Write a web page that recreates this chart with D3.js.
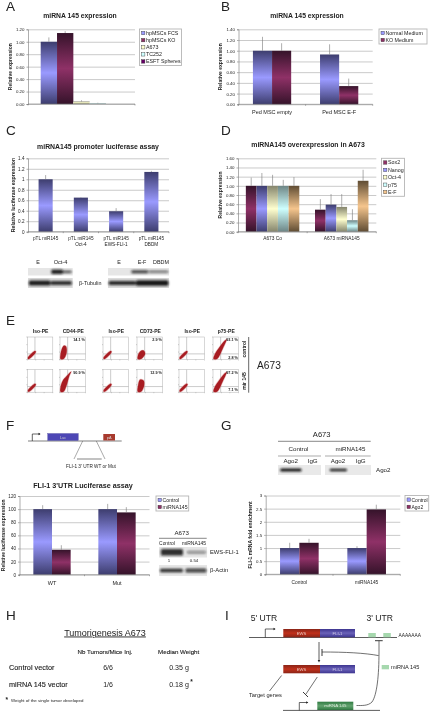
<!DOCTYPE html>
<html><head><meta charset="utf-8">
<script src="https://cdn.jsdelivr.net/npm/d3@7"></script>
<style>
html,body{margin:0;padding:0;background:#fff}
svg{display:block;filter:blur(0.4px)}
text{font-family:"Liberation Sans",Arial,sans-serif;fill:#222}
</style></head><body>
<svg id="c" width="430" height="712" viewBox="0 0 430 712"></svg>
<script>
// ---------- DATA ----------
const aCats=[""];
const aSeries=["hpMSCs FCS","hpMSCs KO","A673","TC252","ESFT Spheres"];
const aValues=[[1.0],[1.14],[0.04],[0.01],[0.0]];
const aErrors=[[1.07],[1.17],[0.06],[0.02],[0.0]];
const aTicks=[0,0.2,0.4,0.6,0.8,1.0,1.2];

const bCats=["Ped MSC empty","Ped MSC E-F"];
const bSeries=["Normal Medium","KO Medium"];
const bValues=[[1.0,0.93],[1.0,0.34]];
const bErrors=[[1.26,1.12],[1.14,0.48]];
const bTicks=[0,0.2,0.4,0.6,0.8,1.0,1.2,1.4];

const cCats=[["pTL miR145"],["pTL miR145","Oct-4"],["pTL miR145","EWS-FLI-1"],["pTL miR145","DBDM"]];
const cSeries=["miR145"];
const cValues=[[1.0,0.65,0.39,1.14]];
const cErrors=[[1.08,0.66,0.45,1.16]];
const cTicks=[0,0.2,0.4,0.6,0.8,1,1.2,1.4];

const dCats=["A673 Co","A673 miRNA145"];
const dSeries=["Sox2","Nanog","Oct-4","p75","E-F"];
const dValues=[[1,0.48],[1,0.59],[1,0.54],[1,0.25],[1,1.11]];
const dErrors=[[1.18,0.71],[1.28,0.82],[1.24,0.82],[1.13,0.49],[1.19,1.35]];
const dTicks=[0,0.2,0.4,0.6,0.8,1,1.2,1.4,1.6];

const fCats=["WT","Mut"];
const fSeries=["Control","miRNA145"];
const fValues=[[100,100],[38,95]];
const fErrors=[[106,108],[45,103]];
const fTicks=[0,20,40,60,80,100,120];

const gCats=["Control","miRNA145"];
const gSeries=["Control","Ago2"];
const gValues=[[1,1],[1.2,2.47]];
const gErrors=[[1.2,1.07],[1.35,2.65]];
const gTicks=[0,0.5,1,1.5,2,2.5,3];

const flowHeaders=["Iso-PE","CD44-PE","Iso-PE","CD73-PE","Iso-PE","p75-PE"];
const flowRow1Pct=["","14.1 %","","2.9 %","","93.1 %"];
const flowRow2Pct=["","90.9 %","","12.9 %","","97.2 %"];
const blobIso=[[.03,.02],[.1,.04],[.34,.34],[.3,.38],[.1,.2],[.02,.08]];
const blobCd44a=[[.02,.02],[.14,.02],[.26,.3],[.24,.58],[.16,.62],[.08,.5],[.02,.22]];
const blobCd44b=[[.02,.02],[.14,.02],[.26,.3],[.36,.7],[.44,.92],[.26,.72],[.1,.5],[.02,.22]];
const blobCd73a=[[.03,.02],[.16,.02],[.32,.26],[.26,.4],[.12,.36],[.03,.16]];
const blobCd73b=[[.03,.02],[.16,.02],[.28,.3],[.26,.52],[.12,.56],[.04,.28]];
const blobP75=[[.02,.02],[.16,.02],[.4,.52],[.54,.9],[.46,.84],[.22,.5],[.08,.26]];

const tumourHeaders=["Nb Tumors/Mice Inj.","Median Weight"];
const tumourRows=[["Control vector","6/6","0.35 g"],["miRNA 145 vector","1/6","0.18 g"]];

// band rows: [start fraction, end fraction, thickness fraction, opacity]
const blotCUpperL=[[.52,.78,.6,.9],[.74,.98,.3,.75]];
const blotCLowerL=[[.02,.5,.5,.92],[.5,.98,.42,.85]];
const blotCUpperR=[[.38,.66,.42,.78],[.66,.99,.26,.65]];
const blotCLowerR=[[.01,.46,.42,.88],[.46,.99,.55,.95]];
const blotFUpper=[[.04,.5,.6,.85],[.58,.98,.28,.42]];
const blotFLower=[[.02,.5,.3,.85],[.55,.99,.38,.75]];
const blotGL=[[.05,.55,.32,1]];
const blotGR=[[.1,.48,.26,.95]];

// ---------- SETUP ----------
const svg=d3.select("#c");
const defs=svg.append("defs");
const palette={blue:["#3d3d6e","#9a9aff"],maroon:["#35132a","#8f3167"],yellow:["#85856d","#ffffcf"],
 cyan:["#6d8585","#ceffff"],purple:["#330033","#660066"],tan:["#5f4c33","#f5c58d"],red:["#8a2417","#c0301b"],
 violet:["#3d3590","#6a62b8"],green:["#2f7a42","#62a36e"]};
Object.entries(palette).forEach(([k,[e,m]])=>{
  const g=defs.append("linearGradient").attr("id","g-"+k).attr("x1",0).attr("x2",0).attr("y1",0).attr("y2",1);
  g.append("stop").attr("offset","0%").attr("stop-color",e);
  g.append("stop").attr("offset","50%").attr("stop-color",m);
  g.append("stop").attr("offset","100%").attr("stop-color",e);
});
defs.append("filter").attr("id","soft").attr("x","-20%").attr("y","-100%").attr("width","140%").attr("height","300%")
  .append("feGaussianBlur").attr("stdDeviation",0.8);

function label(t,x,y,o={}){
  const el=svg.append("text").attr("x",x).attr("y",y).text(t)
    .attr("font-size",o.size||5).attr("text-anchor",o.anchor||"middle");
  if(o.bold)el.attr("font-weight","bold");
  if(o.fill)el.style("fill",o.fill);
  if(o.rotate!==undefined)el.attr("transform",`rotate(${o.rotate} ${x} ${y})`);
  return el;
}

function barPanel(c){
  const y=d3.scaleLinear().domain(c.domain).range([c.bottom,c.top]);
  const x0=d3.scaleBand().domain(d3.range(c.cats.length)).range([c.left,c.right]);
  const bw=x0.bandwidth(), inset=(1-c.frac)/2*bw;
  const x1=d3.scaleBand().domain(d3.range(c.series.length)).range([inset,bw-inset]);
  const g=svg.append("g");
  const grid=d3.axisLeft(y).tickValues(c.ticks).tickSize(-(c.right-c.left)).tickFormat("");
  const gg=g.append("g").attr("transform",`translate(${c.left},0)`).call(grid);
  gg.select(".domain").remove();
  gg.selectAll("line").attr("stroke","#bdbdbd").attr("stroke-width",.8);
  const barsData=[];
  c.series.forEach((s,si)=>c.cats.forEach((_,ci)=>barsData.push({si,ci,v:c.values[si][ci],e:c.errors[si][ci]})));
  g.selectAll("rect.bar").data(barsData).join("rect").attr("class","bar")
    .attr("x",d=>x0(d.ci)+x1(d.si)).attr("width",x1.bandwidth())
    .attr("y",d=>y(d.v)).attr("height",d=>y(0)-y(d.v))
    .attr("fill",d=>`url(#g-${c.colors[d.si]})`);
  g.selectAll("line.err").data(barsData.filter(d=>d.e>d.v)).join("line").attr("class","err")
    .attr("x1",d=>x0(d.ci)+x1(d.si)+x1.bandwidth()/2).attr("x2",d=>x0(d.ci)+x1(d.si)+x1.bandwidth()/2)
    .attr("y1",d=>y(d.v)).attr("y2",d=>y(d.e)).attr("stroke","#777").attr("stroke-width",.6);
  const ax=d3.axisLeft(y).tickValues(c.ticks).tickSize(1.5).tickPadding(2).tickFormat(c.fmt);
  const ag=g.append("g").attr("transform",`translate(${c.left},0)`).call(ax);
  ag.selectAll("text").attr("font-size",c.tickSize||4.4).attr("font-family",null);
  ag.selectAll("line,path").attr("stroke","#777").attr("stroke-width",.6);
  g.append("line").attr("x1",c.left).attr("x2",c.right).attr("y1",y(0)).attr("y2",y(0)).attr("stroke","#777").attr("stroke-width",.6);
  d3.range(c.cats.length+1).forEach(i=>{
    const px=c.left+i*x0.step();
    g.append("line").attr("x1",px).attr("x2",px).attr("y1",y(0)).attr("y2",y(0)+1.5).attr("stroke","#777").attr("stroke-width",.6);
  });
  c.cats.forEach((t,i)=>{
    const lines=Array.isArray(t)?t:[t];
    lines.forEach((ln,k)=>label(ln,x0(i)+bw/2,c.bottom+c.catOffset+k*c.catLead,{size:c.catSize}));
  });
  if(c.title)label(c.title,c.titleX,c.titleY,{size:c.titleSize||6.8,bold:true});
  label(c.yLabel,c.yLabelX,(c.top+c.bottom)/2,{size:c.ySize||5,bold:true,rotate:-90});
  if(c.legend){
    const L=c.legend;
    g.append("rect").attr("x",L.x).attr("y",L.y).attr("width",L.w).attr("height",L.h).attr("fill","#fff").attr("stroke","#b5b5b5").attr("stroke-width",.9);
    const ly=d3.scaleBand().domain(d3.range(c.series.length)).range([L.y+.5,L.y+L.h-.5]);
    c.series.forEach((s,i)=>{
      g.append("rect").attr("x",L.x+2).attr("y",ly(i)+ly.bandwidth()/2-1.7).attr("width",3.4).attr("height",3.4)
        .attr("fill",palette[c.colors[i]][1]).attr("stroke","#333").attr("stroke-width",.4);
      label(s,L.x+6.5,ly(i)+ly.bandwidth()/2+1.9,{size:L.size||5.3,anchor:"start"});
    });
  }
}
const f2=d3.format(".2f"), fg=d=>String(d);

// ---------- PANELS ----------
[["A",6,11],["B",221,11],["C",6,135],["D",221,135],["E",6,325],["F",6,430],["G",221,430],["H",6,620]]
  .forEach(([t,x,y])=>label(t,x,y,{size:13.5,anchor:"start"}));
label("I",225,620,{size:13.5,anchor:"start"});

barPanel({cats:aCats,series:aSeries,values:aValues,errors:aErrors,ticks:aTicks,fmt:f2,domain:[0,1.2],
 left:28,right:135,top:29.3,bottom:104,frac:.7625,colors:["blue","maroon","yellow","cyan","purple"],
 catOffset:8,catLead:6,catSize:4.6,title:"miRNA 145 expression",titleX:80,titleY:18,yLabel:"Relative expression",yLabelX:12.5,
 legend:{x:139.5,y:29,w:42,h:36.5}});
barPanel({cats:bCats,series:bSeries,values:bValues,errors:bErrors,ticks:bTicks,fmt:f2,domain:[0,1.4],
 left:238.5,right:372.7,top:29.3,bottom:104.3,frac:.57,colors:["blue","maroon"],
 catOffset:9.5,catLead:6,catSize:5.5,title:"miRNA 145 expression",titleX:307,titleY:18,yLabel:"Relative expression",yLabelX:222,
 legend:{x:379,y:29,w:48,h:15}});
barPanel({cats:cCats,series:cSeries,values:cValues,errors:cErrors,ticks:cTicks,fmt:fg,domain:[0,1.4],
 left:28,right:169,top:158.3,bottom:231.7,frac:.4,colors:["blue"],
 catOffset:8,catLead:6,catSize:4.7,tickSize:4.6,title:"miRNA145 promoter luciferase assay",titleX:98,titleY:148.5,titleSize:6.9,yLabel:"Relative luciferase expression",yLabelX:14.5,ySize:5.2});
barPanel({cats:dCats,series:dSeries,values:dValues,errors:dErrors,ticks:dTicks,fmt:f2,domain:[0,1.6],
 left:238,right:376.3,top:158.3,bottom:231.7,frac:.773,colors:["maroon","blue","yellow","cyan","tan"],
 catOffset:8.5,catLead:6,catSize:4.8,title:"miRNA145 overexpression in A673",titleX:308,titleY:146.5,titleSize:6.9,yLabel:"Relative expression",yLabelX:222,
 legend:{x:381.5,y:158.3,w:23,h:38}});
barPanel({cats:fCats,series:fSeries,values:fValues,errors:fErrors,ticks:fTicks,fmt:fg,domain:[0,120],
 left:19.5,right:149.5,top:496,bottom:574.7,frac:.574,colors:["blue","maroon"],
 catOffset:10,catLead:6,catSize:5.5,tickSize:4.6,title:"FLI-1 3'UTR Luciferase assay",titleX:83,titleY:488,titleSize:7.2,yLabel:"Relative luciferase expression",yLabelX:5.5,
 legend:{x:156,y:496,w:32.7,h:15,size:5.2}});
barPanel({cats:gCats,series:gSeries,values:gValues,errors:gErrors,ticks:gTicks,fmt:fg,domain:[0,3],
 left:265.7,right:400.3,top:495.5,bottom:574.3,frac:.574,colors:["blue","maroon"],
 catOffset:10,catLead:6,catSize:4.8,tickSize:4.4,yLabel:"FLI-1 mRNA fold enrichment",yLabelX:252,
 legend:{x:405,y:495.5,w:23.7,h:15.5,size:5}});

// ---------- WESTERN BLOTS ----------
function blot(x,y,w,h,bands,bg){
  const bx=d3.scaleLinear().domain([0,1]).range([x,x+w]);
  svg.append("rect").attr("x",x).attr("y",y).attr("width",w).attr("height",h).attr("fill",bg||"#e6e6e6");
  svg.append("g").attr("filter","url(#soft)").selectAll("rect").data(bands).join("rect")
    .attr("x",d=>bx(d[0])).attr("width",d=>bx(d[1])-bx(d[0]))
    .attr("y",d=>y+h/2-d[2]*h/2).attr("height",d=>d[2]*h).attr("rx",1.5)
    .attr("fill","#111").attr("opacity",d=>d[3]);
}
label("E",38,263.5,{size:5.4});label("Oct-4",60.5,263.5,{size:5.6});
label("E",119,263.5,{size:5.4});label("E-F",142,263.5,{size:5.4});label("DBDM",161,263.5,{size:5.4});
blot(28,268,44.7,7.5,blotCUpperL);blot(28,278,44.7,10,blotCLowerL,"#dcdcdc");
blot(108,268,61,7.5,blotCUpperR);blot(108,278,61,10,blotCLowerR,"#dcdcdc");
label("β-Tubulin",79,284.5,{size:5.4,anchor:"start"});

// ---------- FLOW CYTOMETRY ----------
const flowX=[27.3,60,103,137,179,213];
const flowW=25.5,flowH=22.5;
const flowRows=[{y:337,pct:flowRow1Pct,blobs:[blobIso,blobCd44a,blobIso,blobCd73a,blobIso,blobP75],low:"2.8 %"},
                {y:369.7,pct:flowRow2Pct,blobs:[blobIso,blobCd44b,blobIso,blobCd73b,blobIso,blobP75],low:"7.1 %"}];
flowHeaders.forEach((t,i)=>label(t,flowX[i]+flowW/2+.5,333,{size:5,bold:true}));
flowRows.forEach(r=>flowX.forEach((fx,i)=>{
  const sx=d3.scaleLinear().domain([0,1]).range([fx,fx+flowW]);
  const sy=d3.scaleLinear().domain([0,1]).range([r.y+flowH,r.y]);
  const g=svg.append("g");
  g.append("rect").attr("x",fx).attr("y",r.y).attr("width",flowW).attr("height",flowH).attr("fill","#fff").attr("stroke","#b0b0b0").attr("stroke-width",.5);
  g.append("line").attr("x1",sx(.3)).attr("x2",sx(.3)).attr("y1",r.y).attr("y2",r.y+flowH).attr("stroke","#999").attr("stroke-width",.5);
  g.append("line").attr("x1",fx).attr("x2",fx+flowW).attr("y1",sy(.25)).attr("y2",sy(.25)).attr("stroke","#999").attr("stroke-width",.5);
  const line=d3.line().x(d=>sx(d[0])).y(d=>sy(d[1])).curve(d3.curveCatmullRomClosed);
  g.append("path").attr("d",line(r.blobs[i])).attr("fill","#a81c22").attr("stroke","#d98a8a").attr("stroke-opacity",.55).attr("stroke-width",1.2).attr("paint-order","stroke");
  [0,.33,.66,1].forEach(t=>{
    g.append("line").attr("x1",sx(t)).attr("x2",sx(t)).attr("y1",r.y+flowH).attr("y2",r.y+flowH+1).attr("stroke","#888").attr("stroke-width",.4);
    g.append("line").attr("y1",sy(t)).attr("y2",sy(t)).attr("x1",fx).attr("x2",fx-1).attr("stroke","#888").attr("stroke-width",.4);
  });
  if(r.pct[i])label(r.pct[i],fx+flowW-.5,r.y+4,{size:3.8,bold:true,anchor:"end"});
  if(i===5)label(r.low,fx+flowW-.5,r.y+flowH-1,{size:3.8,bold:true,anchor:"end"});
}));
svg.append("line").attr("x1",248.7).attr("x2",248.7).attr("y1",337).attr("y2",392.7).attr("stroke","#555").attr("stroke-width",.9);
label("control",245.5,349,{size:5,bold:true,rotate:-90});
label("mir 145",245.5,381,{size:5,bold:true,rotate:-90});
label("A673",257,369,{size:10.2,anchor:"start"});

// ---------- F: CONSTRUCT ----------
function seg(x1,y1,x2,y2,w,col){svg.append("line").attr("x1",x1).attr("y1",y1).attr("x2",x2).attr("y2",y2).attr("stroke",col||"#333").attr("stroke-width",w||.7);}
function bent(x,y,yt,xe){
  svg.append("path").attr("d",`M${x},${y}V${yt}H${xe}`).attr("fill","none").attr("stroke","#222").attr("stroke-width",.7);
  svg.append("path").attr("d",`M${xe-1.5},${yt-1.2}L${xe+.6},${yt}L${xe-1.5},${yt+1.2}Z`).attr("fill","#222");
}
seg(28,441,121.7,441,1.2,"#808080");
bent(32.3,441,434,40);
svg.append("rect").attr("x",47.7).attr("y",433.5).attr("width",30.6).attr("height",7).attr("fill","#4d47b5").attr("stroke","#3a3590").attr("stroke-width",.3);
label("Luc",63,438.9,{size:3.8,fill:"#ccc"});
svg.append("rect").attr("x",103.3).attr("y",434).attr("width",11.7).attr("height",6.5).attr("fill","#a83a2e");
label("pA",109.2,438.9,{size:3.8,fill:"#ddd"});
seg(82.7,441,74,459,.5,"#555");seg(96.3,441,105,459,.5,"#555");
seg(77,459,101.7,459,1.2,"#999");
label("FLI-1 3' UTR WT or Mut",91,467.5,{size:4.7});

// blot F
label("A673",181.7,535,{size:6.2});seg(159,538.3,206.7,538.3,.7,"#555");
label("Control",167,545,{size:4.9});label("miRNA145",194,545,{size:5});
blot(159,547,48,10.5,blotFUpper);blot(159,565,48,11,blotFLower);
label("1",169,561.5,{size:4.4});label("0.54",194,561.5,{size:4.4});
label("EWS-FLI-1",210,554,{size:5.8,anchor:"start"});label("β-Actin",210,572,{size:5.8,anchor:"start"});

// ---------- G: IP ----------
label("A673",321.7,436.5,{size:7.6});seg(278,441.3,370.7,441.3,.7,"#555");
label("Control",298.5,451,{size:6.2});label("miRNA145",350.5,451,{size:6.2});
seg(278,456,321,456,.7,"#888");seg(325,456,370.7,456,.7,"#888");
label("Ago2",290.7,463,{size:6.2});label("IgG",312.7,463,{size:6.2});
label("Ago2",338,463,{size:6.2});label("IgG",360.7,463,{size:6.2});
blot(278,465,43,10,blotGL,"#e9e9e9");blot(325,465,46,10,blotGR,"#e9e9e9");
label("Ago2",376,472.3,{size:6.2,anchor:"start"});

// ---------- H: TABLE ----------
label("Tumorigenesis A673",105,635.5,{size:9}).attr("text-decoration","underline");
label(tumourHeaders[0],105,654,{size:6.2}).style("stroke","#222").style("stroke-width",.12);
label(tumourHeaders[1],178.7,654,{size:6.2}).style("stroke","#222").style("stroke-width",.12);
tumourRows.forEach((r,i)=>{
  const y=670+i*17;
  label(r[0],9,y,{size:7.3,anchor:"start"}).style("stroke","#222").style("stroke-width",.12);
  label(r[1],108,y,{size:7});label(r[2],179,y,{size:7.1});
});
label("*",191.5,684,{size:6.5,bold:true});
label("*",5.5,702,{size:6.5,bold:true,anchor:"start"});
label("Weight of the single tumor developed",11,701.5,{size:4.4,anchor:"start"});

// ---------- I: MODEL ----------
label("5' UTR",264,621,{size:8.6});label("3' UTR",379.7,621,{size:8.6});
seg(249,637.5,397,637.5,.8,"#333");
bent(265.3,637.5,629,275);
function gene(y,h){
  svg.append("rect").attr("x",320).attr("y",y).attr("width",35).attr("height",h).attr("fill","url(#g-violet)");
  svg.append("rect").attr("x",283.3).attr("y",y).attr("width",36.7).attr("height",h).attr("fill","url(#g-red)");
  label("EWS",301.5,y+h/2+1.6,{size:4.2,fill:"#e8c8c0"});
  label("FLI-1",337.5,y+h/2+1.6,{size:4.2,fill:"#cfcbe8"});
}
gene(629,8.3);gene(665,8.3);
[368.3,383.3].forEach(x=>{
  svg.append("rect").attr("x",x).attr("y",633).attr("width",7.5).attr("height",4.3).attr("fill","#a6d8ae");
});
label("AAAAAAA",398.5,637,{size:4.8,anchor:"start"});
seg(319,642,319,660,.8,"#333");
svg.append("path").attr("d","M317.7,660L319,662.5L320.3,660Z").attr("fill","#222");
seg(322,649,322,656,.9,"#222");
svg.append("path").attr("d","M322,652C345,652 365,653 378.6,655.6").attr("fill","none").attr("stroke","#333").attr("stroke-width",.7);
seg(375,640.7,382.7,640.7,.9,"#222");
svg.append("path").attr("d","M379,640.7V652C379,675 377,695 372,702C368,706 362,705.5 356.5,705.5").attr("fill","none").attr("stroke","#333").attr("stroke-width",.7);
svg.append("rect").attr("x",381.7).attr("y",665).attr("width",7.3).attr("height",4.3).attr("fill","#a6d8ae");
label("miRNA 145",391,669,{size:5.6,anchor:"start"});
seg(281.6,675.5,269.5,691,.7,"#333");
seg(317.3,677,306,694,.7,"#333");seg(303,692,308,697,.9,"#222");
label("Target genes",249,697,{size:5.7,anchor:"start"});
svg.append("rect").attr("x",317.3).attr("y",701.7).attr("width",36).attr("height",8.3).attr("fill","url(#g-green)");
label("miRNA 145",335.3,707.3,{size:4.4,fill:"#d8e8d8"});
seg(283,710.4,380,710.4,.8,"#333");
bent(299.3,710.4,702.5,307.7);
</script>
</body></html>
